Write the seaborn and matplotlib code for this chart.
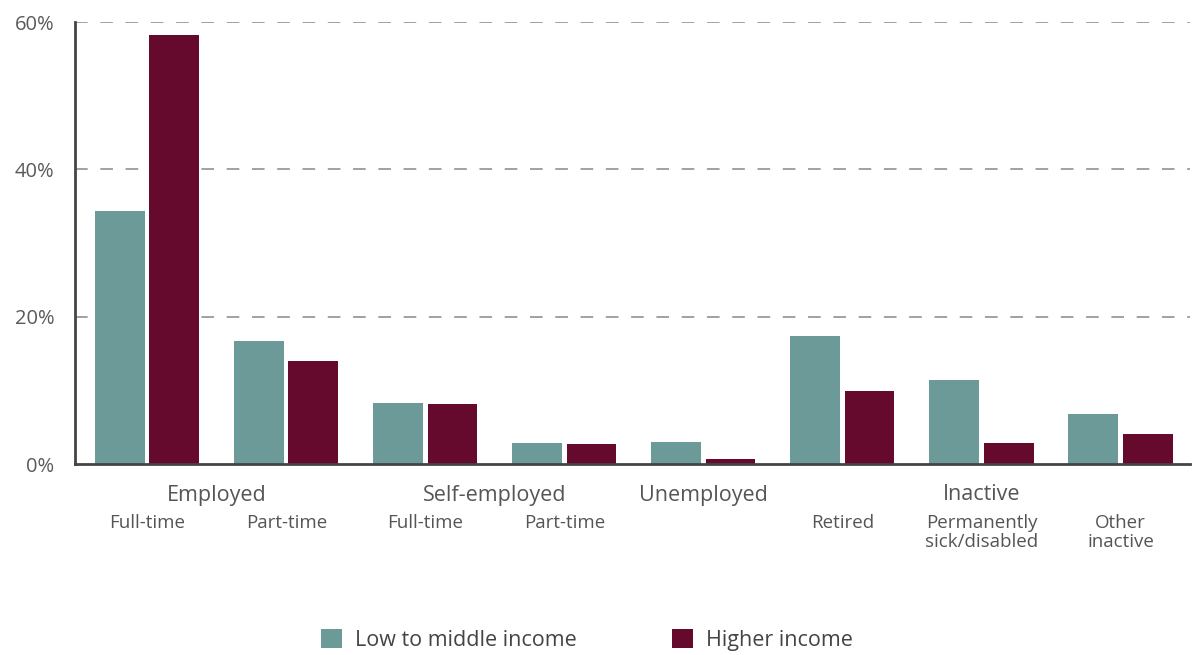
import pandas as pd
import matplotlib.pyplot as plt
import seaborn as sns

# Dados
categorias = ['Emp FT', 'Emp PT', 'Self FT', 'Self PT', 'Unemployed',
              'Retired', 'Sick', 'Other']
sub_labels = ['Full-time', 'Part-time', 'Full-time', 'Part-time', '',
              'Retired', 'Permanently\nsick/disabled', 'Other\ninactive']
low_mid = [34.3, 16.7, 8.3, 2.8, 3.0, 17.4, 11.4, 6.8]
higher = [58.3, 14.0, 8.1, 2.7, 0.7, 9.9, 2.8, 4.1]
grupos = ['Employed', 'Self-employed', 'Unemployed', 'Inactive']
grupo_pos = [0.5, 2.5, 4, 6]
grupo_limites = [-0.5, 1.5, 3.5, 4.5, 7.5]
series = ['Low to middle income', 'Higher income']
cores = ['#6b9a98', '#65092d']

df = pd.DataFrame({'cat': categorias, series[0]: low_mid, series[1]: higher})
df = df.melt(id_vars='cat', var_name='serie', value_name='valor')

sns.set_style('white')
plt.rcParams['font.family'] = ['Open Sans', 'DejaVu Sans']

fig = plt.figure(figsize=(11.92, 6.55), dpi=100)
ax = fig.add_axes([75 / 1192, 191 / 655, 1115 / 1192, 442 / 655])

sns.barplot(data=df, x='cat', y='valor', hue='serie', palette=cores,
            width=0.78, gap=0.08, saturation=1, linewidth=0, ax=ax)

ax.set_ylim(0, 60)
ax.set_xlim(-0.52, 7.5)
ax.set_yticks([0, 20, 40, 60], labels=['0%', '20%', '40%', '60%'])
ax.tick_params(axis='y', length=8, width=1.5, color='#444444',
               labelsize=14.5, labelcolor='#5a5a5a', pad=7)
for v in [20, 40, 60]:
    ax.axhline(v, color='#9a9a9a', lw=1.3, ls=(0, (7, 7)), zorder=0)

ax.set_xticks(range(len(categorias)), labels=sub_labels)
ax.tick_params(axis='x', which='major', length=0, labelsize=13.5,
               labelcolor='#555555', pad=36)
ax.set_xticks(grupo_limites, minor=True)
ax.tick_params(axis='x', which='minor', length=7, width=1.5,
               color='#444444', direction='out')
for lbl in ax.get_xticklabels():
    lbl.set_linespacing(1.05)

for g, p in zip(grupos, grupo_pos):
    ax.text(p, -31 / 442, g, transform=ax.get_xaxis_transform(),
            ha='center', va='center', fontsize=15.5, color='#555555')

for s in ['top', 'right']:
    ax.spines[s].set_visible(False)
for s in ['left', 'bottom']:
    ax.spines[s].set_color('#444444')
    ax.spines[s].set_linewidth(2)

ax.set_xlabel('')
ax.set_ylabel('')

handles, labels = ax.get_legend_handles_labels()
ax.get_legend().remove()
fig.legend(handles, labels, loc='center', bbox_to_anchor=(587 / 1192, 15 / 655),
           ncol=2, frameon=False, fontsize=15.5, handlelength=1.0,
           handleheight=1.0, columnspacing=4.4, handletextpad=0.6,
           labelcolor='#444444')

fig.savefig('out.png', dpi=100)
